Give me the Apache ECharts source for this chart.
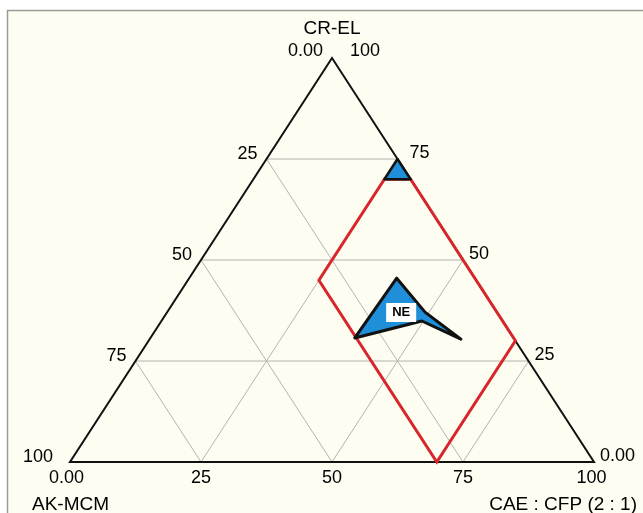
<!DOCTYPE html>
<html>
<head>
<meta charset="utf-8">
<script src="https://cdn.jsdelivr.net/npm/echarts@6/dist/echarts.min.js"></script>
<style>
  html, body { margin: 0; padding: 0; background: #fff; }
  #chart { width: 643px; height: 513px; }
</style>
</head>
<body>
<div id="chart"></div>
<script>
// ternary points are [CR-EL, CAE : CFP]; AK-MCM is whatever is left to 100
const gridTicks = [25, 50, 75];
const tickValues = [0, 25, 50, 75, 100];
const leftLabels = ["0.00", "25", "50", "75", "100"];   // AK-MCM, apex -> bottom left
const bottomLabels = ["0.00", "25", "50", "75", "100"]; // CAE : CFP, left -> right
const rightLabels = ["100", "75", "50", "25", "0.00"];  // CR-EL, apex -> bottom right
const redField = [[70, 25], [70, 30], [30, 70], [0, 70], [45, 25]];
const topCap = [[75, 25], [70, 25], [70, 30]];
const neField = [[45.5, 39.6], [37.1, 49.2], [30.4, 59.4], [34.9, 49.7], [30.7, 39]];
const neLabel = [37, 44.7];
const outline = [[100, 0], [0, 0], [0, 100]];

const toXY = (p) => [p[1] + p[0] / 2, p[0]];
const font = '"Liberation Sans", Arial, sans-serif';

const chart = echarts.init(document.getElementById("chart"));

const polySeries = (pts, style, z) => ({
  type: "custom",
  silent: true,
  clip: false,
  z: z,
  data: [0],
  renderItem: (params, api) => ({
    type: "polygon",
    shape: { points: pts.map((p) => api.coord(toXY(p))) },
    style: style,
  }),
});

// grid lines parallel to each side
const gridSeries = [];
gridTicks.forEach((t) => {
  [
    [[t, 0], [t, 100 - t]],
    [[0, t], [100 - t, t]],
    [[0, 100 - t], [100 - t, 0]],
  ].forEach((seg) => {
    gridSeries.push({
      type: "line",
      silent: true,
      symbol: "none",
      z: 1,
      data: seg.map(toXY),
      lineStyle: { color: "#b4b4b0", width: 1 },
    });
  });
});

const labelItem = (p, text, position, distance, offset) => ({
  value: toXY(p),
  label: { formatter: text, position: position, distance: distance, offset: offset },
});

const labelData = [];
tickValues.forEach((t, i) => {
  let d = i === 4 ? 17 : 9;
  labelData.push(labelItem([100 - t, 0], leftLabels[i], "left", d, [0, i === 0 ? -7 : -5]));
  let dx = i === 0 ? -3.5 : i === 4 ? -2.5 : 0;
  labelData.push(labelItem([0, t], bottomLabels[i], "inside", 0, [dx, 16.5]));
  let r = i === 0 ? 18 : i === 1 ? 12 : 6;
  labelData.push(labelItem([100 - t, t], rightLabels[i], "right", r, [0, i === 0 ? -7 : -5.5]));
});

let option = {
  animation: false,
  grid: { left: 70, right: 49, top: 58, bottom: 51 },
  xAxis: { type: "value", min: 0, max: 100, show: false },
  yAxis: { type: "value", min: 0, max: 100, show: false },
  graphic: [
    {
      type: "rect",
      z: -10,
      silent: true,
      shape: { x: 7.5, y: 10.5, width: 700, height: 600 },
      style: { fill: "#fefdf1", stroke: "#9c9c96", lineWidth: 1.5 },
    },
    {
      type: "text",
      z: 100,
      style: { text: "CR-EL", x: 332, y: 29, align: "center", verticalAlign: "middle", font: "19px " + font, fill: "#000" },
    },
    {
      type: "text",
      z: 100,
      style: { text: "AK-MCM", x: 32, y: 505, align: "left", verticalAlign: "middle", font: "19px " + font, fill: "#000" },
    },
    {
      type: "text",
      z: 100,
      style: { text: "CAE : CFP (2 : 1)", x: 637, y: 505, align: "right", verticalAlign: "middle", font: "19px " + font, fill: "#000" },
    },
  ],
  series: [
    ...gridSeries,
    polySeries(outline, { fill: "none", stroke: "#111", lineWidth: 2 }, 3),
    polySeries(redField, { fill: "none", stroke: "#d7262b", lineWidth: 3, lineJoin: "miter" }, 4),
    polySeries(topCap, { fill: "#1e8fd8", stroke: "#111", lineWidth: 2.5, lineJoin: "round" }, 5),
    polySeries(neField, { fill: "#1e8fd8", stroke: "#111", lineWidth: 3, lineJoin: "round" }, 5),
    {
      type: "scatter",
      silent: true,
      symbolSize: 0,
      z: 10,
      itemStyle: { opacity: 1 },
      label: { show: true, fontFamily: font, fontSize: 18, color: "#000" },
      data: labelData,
    },
    {
      type: "scatter",
      silent: true,
      symbolSize: 0,
      z: 11,
      itemStyle: { opacity: 1 },
      data: [
        {
          value: toXY(neLabel),
          label: {
            show: true,
            formatter: "NE",
            position: "inside",
            backgroundColor: "#ffffff",
            opacity: 1,
            padding: [3, 6, 3, 6],
            fontFamily: font,
            fontSize: 13,
            fontWeight: "bold",
            color: "#000",
          },
        },
      ],
    },
  ],
};
chart.setOption(option);
</script>
</body>
</html>
